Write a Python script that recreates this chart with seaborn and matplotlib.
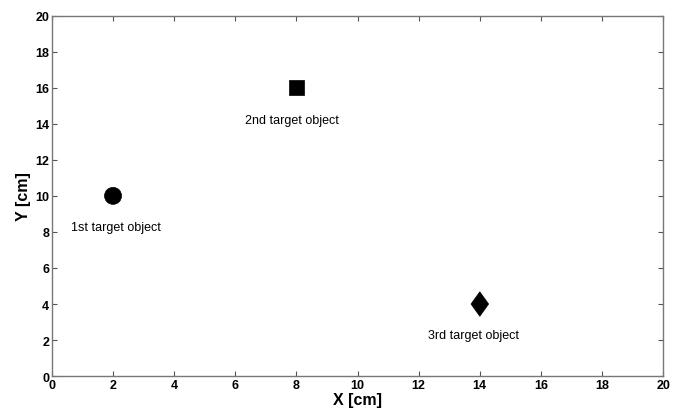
import pandas as pd
import seaborn as sns
import matplotlib.pyplot as plt

# ------------------------------------------------------------
# DATA
# ------------------------------------------------------------
objects = ["1st target object", "2nd target object", "3rd target object"]
x_cm = [2, 8, 14]
y_cm = [10, 16, 4]
diamond = [(0, 1), (0.72, 0), (0, -1), (-0.72, 0), (0, 1)]
markers = ["o", "s", diamond]
label_x = [2.1, 7.85, 13.8]
label_y = [8.3, 14.2, 2.3]

df = pd.DataFrame({"object": objects, "x": x_cm, "y": y_cm})

# ------------------------------------------------------------
# PLOT
# ------------------------------------------------------------
sns.set_style("white")
plt.rcParams["font.family"] = ["Liberation Sans", "DejaVu Sans"]
plt.rcParams["text.color"] = "black"

fig = plt.figure(figsize=(6.83, 4.14), dpi=100)
ax = fig.add_axes([0.076, 0.089, 0.895, 0.871])

sns.scatterplot(
    data=df, x="x", y="y",
    style="object", markers=dict(zip(objects, markers)),
    size="object", sizes=dict(zip(objects, [150, 110, 310])),
    color="black", edgecolor="black", linewidth=0.5,
    legend=False, ax=ax
)

for txt, lx, ly in zip(objects, label_x, label_y):
    ax.text(lx, ly, txt, fontsize=9, ha="center", va="center", color="black")

ax.set_xlim(0, 20)
ax.set_ylim(0, 20)
ax.set_xticks(range(0, 21, 2))
ax.set_yticks(range(0, 21, 2))
ax.tick_params(direction="in", bottom=True, left=True, top=True, right=True,
               length=3.5, width=0.8, color="#555555", labelsize=9,
               labelcolor="black", pad=2)
for lab in ax.get_xticklabels() + ax.get_yticklabels():
    lab.set_fontweight("bold")
for sp in ax.spines.values():
    sp.set_color("#777777")
    sp.set_linewidth(1.0)

ax.set_xlabel("X [cm]", fontsize=11.5, fontweight="bold", color="black", labelpad=1)
ax.set_ylabel("Y [cm]", fontsize=11.5, fontweight="bold", color="black", labelpad=3)

fig.savefig("out.png", dpi=100)
